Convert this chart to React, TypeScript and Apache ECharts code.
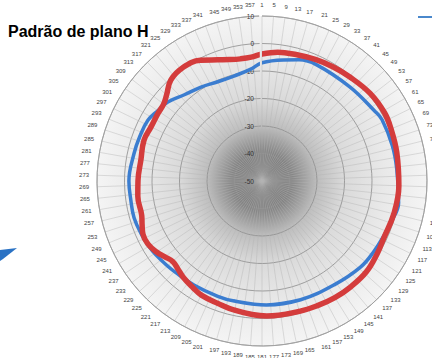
import React, { useEffect, useRef } from 'react';
import * as echarts from 'echarts';

const titleText = 'Padrão de plano H';
const angleLabels: string[] = Array.from({ length: 360 }, (_, i) => String(i + 1));
const radiusMin = -50;
const radiusMax = 10;
const radiusStep = 10;

const blueAngles = [0, 10, 17, 25, 43, 58, 63, 75, 85, 99, 107, 115, 122, 131, 145, 162, 178, 193, 201, 213, 224, 228, 235, 240, 246, 254, 262, 270, 282, 290, 298, 304, 310, 318, 327, 336, 345, 354];
const blueValues = [-7, -5.3, -3.9, -3.3, -3.2, -1.8, -1.0, -0.9, -0.8, 0.3, -0.6, -1.5, -1.9, -2.4, -4.0, -4.6, -4.9, -5.2, -5.1, -4.8, -4.2, -3.8, -3.0, -2.5, -2.1, -1.6, -1.8, -1.6, -2.4, -2.7, -3.0, -4.3, -5.3, -7.8, -9.3, -10.5, -10.5, -9.2];

const redAngles = [0, 7, 15, 24, 32, 40, 51, 61, 68, 78, 92, 104, 115, 122, 131, 140, 148, 156, 164, 178, 192, 200, 208, 213, 219, 224, 228, 232, 236, 241, 246, 250, 254, 263, 270, 280, 289, 296, 303, 308, 312, 318, 325, 333, 340, 345, 350, 355];
const redValues = [-3.8, -2.8, -2.4, -1.7, -1.1, -0.5, 0.6, 1.0, 0.6, 0.1, -0.2, -0.6, -1.1, -0.5, 0.3, 0.2, 0.0, -0.4, -0.7, -0.9, -2.0, -2.7, -3.0, -3.8, -4.7, -5.8, -6.3, -5.2, -3.8, -2.6, -2.6, -3.6, -4.5, -4.5, -4.9, -5.3, -4.6, -5.1, -4.9, -4.6, -3.3, -0.5, 0.3, -0.7, -3.1, -4.3, -4.9, -4.8];

// start the path at the bottom of the circle and wrap around so the outline closes
function closedLoop(angles: number[], values: number[]) {
  const pts = angles.map((a, i) => [values[i], a]);
  let k = angles.findIndex((a) => a >= 178);
  if (k < 0) k = 0;
  const rot = [...pts.slice(k), ...pts.slice(0, k)];
  const n = rot.length;
  return [rot[n - 1], ...rot, rot[0], rot[1]];
}

export default function App() {
  const ref = useRef<HTMLDivElement>(null);
  useEffect(() => {
    const chart = echarts.init(ref.current!, null, { renderer: 'svg' });
    const cx = 262, cy = 181, R = 165;
    chart.setOption({
      animation: false,
      backgroundColor: '#ffffff',
      title: {
        text: titleText,
        left: 3,
        top: 18,
        textStyle: { fontSize: 16, fontWeight: 'bold', color: '#000', fontFamily: 'Liberation Sans' },
      },
      polar: { center: [cx, cy], radius: R },
      angleAxis: {
        type: 'category',
        data: angleLabels,
        startAngle: 90,
        clockwise: true,
        boundaryGap: false,
        axisLine: { show: true, lineStyle: { color: '#a0a0a0', width: 0.8 } },
        axisTick: { show: false },
        axisLabel: { interval: 3, fontSize: 6, color: '#444', margin: 8, fontFamily: 'Liberation Sans' },
        splitLine: { show: true, interval: 0, lineStyle: { color: '#b4b4b4', width: 0.5, opacity: 0.85 } },
      },
      radiusAxis: {
        min: radiusMin,
        max: radiusMax,
        interval: radiusStep,
        axisLine: { show: false },
        axisTick: { show: false },
        axisLabel: { fontSize: 6.5, color: '#333', fontFamily: 'Liberation Sans' },
        splitLine: { show: true, lineStyle: { color: '#8c8c8c', width: 0.8 } },
      },
      graphic: [
        {
          type: 'circle',
          z: -10,
          silent: true,
          shape: { cx, cy, r: R },
          style: {
            fill: new echarts.graphic.RadialGradient(0.5, 0.5, 0.5, [
              { offset: 0, color: '#747474' },
              { offset: 0.18, color: '#848484' },
              { offset: 0.33, color: '#bdbdbd' },
              { offset: 0.5, color: '#dadada' },
              { offset: 0.75, color: '#e9e9e9' },
              { offset: 1, color: '#f4f4f4' },
            ]),
          },
        },
        {
          type: 'polygon',
          silent: true,
          shape: { points: [[0, 250], [17, 248], [3, 259], [0, 261]] },
          style: { fill: '#2a72c4' },
        },
        {
          type: 'line',
          silent: true,
          shape: { x1: 418, y1: 17, x2: 432, y2: 17 },
          style: { stroke: '#4a88cc', lineWidth: 2 },
        },
      ],
      series: [
        {
          type: 'line',
          coordinateSystem: 'polar',
          clip: false,
          data: closedLoop(blueAngles, blueValues),
          showSymbol: false,
          smooth: 0.4,
          lineStyle: { color: '#3b7dd0', width: 3.5 },
        },
        {
          type: 'line',
          coordinateSystem: 'polar',
          clip: false,
          data: closedLoop(redAngles, redValues),
          showSymbol: false,
          smooth: 0.4,
          lineStyle: { color: '#d43c3c', width: 5.5 },
        },
      ],
    });
    return () => chart.dispose();
  }, []);
  return <div ref={ref} style={{ position: 'fixed', left: 0, top: 0, width: 432, height: 358, background: '#fff' }} />;
}
